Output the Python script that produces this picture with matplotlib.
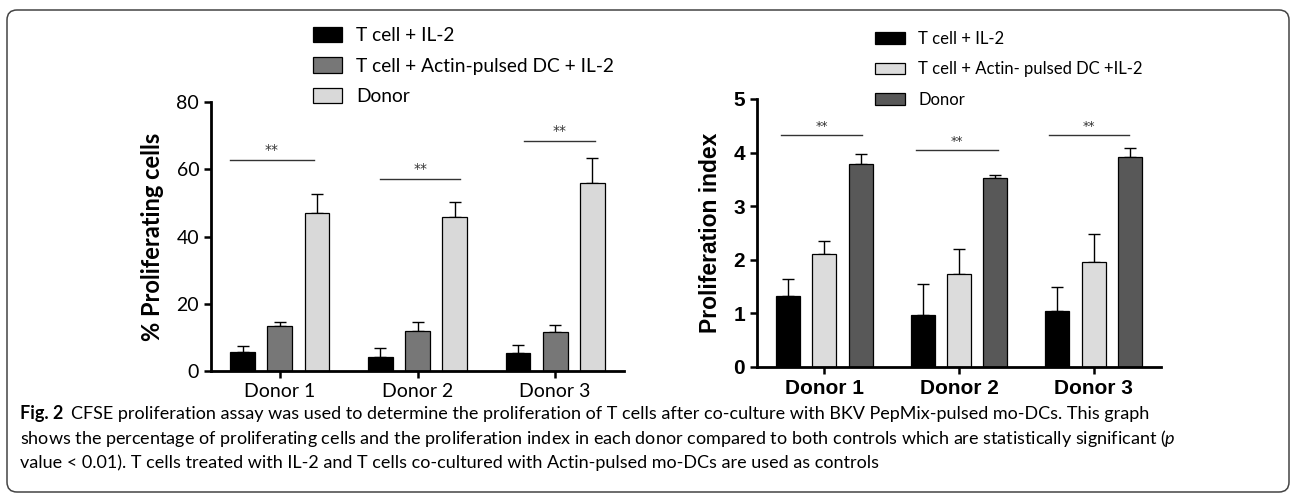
import matplotlib
matplotlib.use('Agg')
import matplotlib.pyplot as plt
import matplotlib.patches as mpatches
from matplotlib.transforms import IdentityTransform
import numpy as np

plt.rcParams['mathtext.fontset'] = 'custom'
plt.rcParams['mathtext.it'] = 'Lato:italic'
plt.rcParams['mathtext.rm'] = 'Lato'

# ---- data ----
donors = ['Donor 1', 'Donor 2', 'Donor 3']

left_labels = ['T cell + IL-2', 'T cell + Actin-pulsed DC + IL-2', 'Donor']
prolif_il2 = [5.6, 4.3, 5.3]
prolif_il2_err = [1.8, 2.4, 2.5]
prolif_actin = [13.3, 12.0, 11.7]
prolif_actin_err = [1.2, 2.5, 2.0]
prolif_donor = [47.1, 45.7, 55.8]
prolif_donor_err = [5.6, 4.5, 7.6]
prolif_sig_y = [62.8, 57.1, 68.5]
prolif_sig_span = [(-0.365, 0.25), (-0.27, 0.31), (-0.23, 0.29)]

right_labels = ['T cell + IL-2', 'T cell + Actin- pulsed DC +IL-2', 'Donor']
index_il2 = [1.32, 0.97, 1.045]
index_il2_err = [0.32, 0.57, 0.445]
index_actin = [2.11, 1.735, 1.95]
index_actin_err = [0.25, 0.465, 0.53]
index_donor = [3.78, 3.53, 3.91]
index_donor_err = [0.19, 0.06, 0.18]
index_sig_y = [4.32, 4.04, 4.32]
index_sig_span = [(-0.32, 0.28), (-0.32, 0.29), (-0.33, 0.26)]

W, H = 1292, 495
fig = plt.figure(figsize=(W / 100, H / 100), dpi=100)


def px_axes(x0, y0, x1, y1):
    return fig.add_axes([x0 / W, 1 - y1 / H, (x1 - x0) / W, (y1 - y0) / H])


def draw_panel(ax, means, errs, colors, sig_y, sig_span, font, star_size):
    x = np.arange(len(donors))
    offsets = [-0.27, 0, 0.27]
    bars = []
    for m, e, c, off in zip(means, errs, colors, offsets):
        b = ax.bar(x + off, m, width=0.18, color=c, edgecolor='black', linewidth=0.9, zorder=2)
        ax.errorbar(x + off, m, yerr=[np.zeros(len(e)), e], fmt='none', ecolor='black',
                    elinewidth=1.0, capsize=4, capthick=1.0, zorder=1)
        bars.append(b)
    for xi, y, (a, b_) in zip(x, sig_y, sig_span):
        ax.plot([xi + a, xi + b_], [y, y], color='#333333', lw=1.0, clip_on=False)
        ax.annotate('**', xy=(xi + (a + b_) / 2, y), xytext=(0, 2), textcoords='offset points',
                    ha='center', va='bottom', fontsize=star_size, color='#333333')
    ax.set_xlim(-0.5, 2.5)
    ax.set_xticks(x)
    ax.set_xticklabels(donors, **font)
    for s in ['top', 'right']:
        ax.spines[s].set_visible(False)
    for s in ['left', 'bottom']:
        ax.spines[s].set_linewidth(2.0)
    ax.tick_params(width=1.8, length=5)
    return bars


# left panel
ax1 = px_axes(211, 102, 624, 371)
left_font = dict(family='Lato', fontsize=14)
bars1 = draw_panel(ax1, [prolif_il2, prolif_actin, prolif_donor],
                   [prolif_il2_err, prolif_actin_err, prolif_donor_err],
                   ['black', '#777777', '#d9d9d9'], prolif_sig_y, prolif_sig_span, left_font, 10)
ax1.set_ylim(0, 80)
ax1.set_yticks([0, 20, 40, 60, 80])
ax1.set_yticklabels(['0', '20', '40', '60', '80'], **left_font)
ax1.set_ylabel('% Proliferating cells', family='Lato', fontweight='bold', fontsize=17, labelpad=9)
fig.legend(bars1, left_labels, loc='upper left', bbox_to_anchor=(313 / W, 1 - 27 / H),
           frameon=False, borderpad=0, borderaxespad=0, handlelength=1.5, handleheight=0.86,
           labelspacing=0.68, handletextpad=0.75, prop=dict(family='Lato', size=13.8))

# right panel
ax2 = px_axes(757, 99, 1161, 367)
right_font = dict(family='Liberation Sans', fontsize=15, fontweight='bold')
bars2 = draw_panel(ax2, [index_il2, index_actin, index_donor],
                   [index_il2_err, index_actin_err, index_donor_err],
                   ['black', '#dcdcdc', '#585858'], index_sig_y, index_sig_span, right_font, 9)
ax2.set_ylim(0, 5)
ax2.set_yticks(range(6))
ax2.set_yticklabels([str(i) for i in range(6)], **right_font)
ax2.set_ylabel('Proliferation index', family='Liberation Sans',
               fontweight='bold', fontsize=16.5, labelpad=8)
fig.legend(bars2, right_labels, loc='upper left', bbox_to_anchor=(875 / W, 1 - 31 / H),
           frameon=False, borderpad=0, borderaxespad=0, handlelength=1.8, handleheight=0.72,
           labelspacing=0.86, handletextpad=0.8, prop=dict(family='Lato', size=12))

# rounded frame around figure + caption
frame = mpatches.FancyBboxPatch((7, 3), 1282, 482, boxstyle='round,pad=0,rounding_size=10',
                                transform=IdentityTransform(), fill=False,
                                edgecolor='#444444', linewidth=1.1)
fig.add_artist(frame)

# caption
cap_font = dict(family='Lato', fontsize=13)
line1 = 'CFSE proliferation assay was used to determine the proliferation of T cells after co-culture with BKV PepMix-pulsed mo-DCs. This graph'
line2 = 'shows the percentage of proliferating cells and the proliferation index in each donor compared to both controls which are statistically significant ($p$'
line3 = 'value < 0.01). T cells treated with IL-2 and T cells co-cultured with Actin-pulsed mo-DCs are used as controls'
fig_lbl = fig.text(20 / W, 1 - 419 / H, 'Fig. 2', fontweight='bold', va='baseline', **cap_font)
fig.canvas.draw()
bb = fig_lbl.get_window_extent()
fig.text((bb.x1 + 8) / W, 1 - 419 / H, line1, va='baseline', **cap_font)
fig.text(20 / W, 1 - 444 / H, line2, va='baseline', **cap_font)
fig.text(20 / W, 1 - 468 / H, line3, va='baseline', **cap_font)

fig.savefig('out.png', dpi=100)
